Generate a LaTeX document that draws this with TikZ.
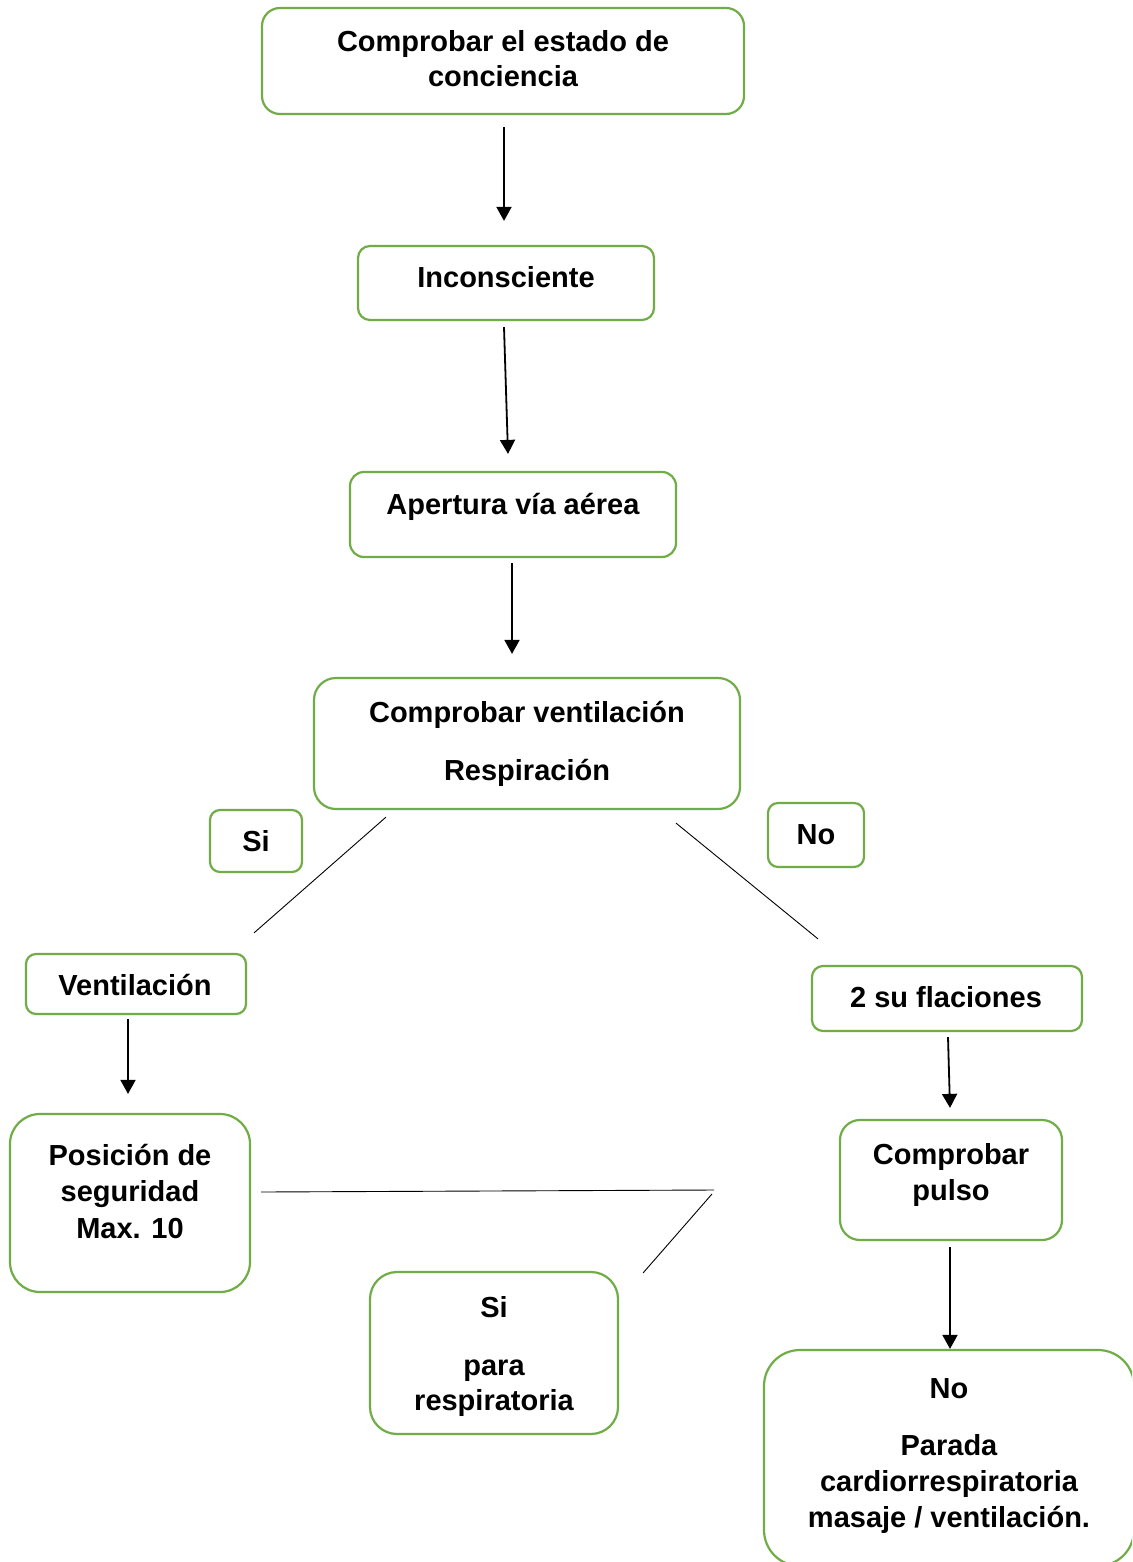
\documentclass[tikz,border=0pt]{standalone}
\usepackage{fontspec}
\setmainfont{Liberation Sans}
\usetikzlibrary{arrows.meta,calc}
\definecolor{boxgreen}{RGB}{112,173,71}
\begin{document}
\begin{tikzpicture}[x=1pt,y=-1pt,
  gbox/.style={draw=boxgreen, line width=2.2pt, inner sep=0pt, fill=white},
  txt/.style={inner sep=0pt, align=center, anchor=north,
    font=\fontsize{29}{36}\selectfont\bfseries},
  arr/.style={line width=1.8pt, -{Triangle[width=15pt,length=14pt]}},
  thin/.style={line width=0.9pt}]
\useasboundingbox (0,0) rectangle (1132,1562);
\clip (0,0) rectangle (1132,1562);
\fill[white] (0,0) rectangle (1132,1562);
% boxes
\node[gbox, rounded corners=18pt, minimum width=482pt, minimum height=106pt] (b1) at (503,61) {};
\node[gbox, rounded corners=12pt, minimum width=296pt, minimum height=74pt] (b2) at (506,283) {};
\node[gbox, rounded corners=14pt, minimum width=326pt, minimum height=85pt] (b3) at (513,514.5) {};
\node[gbox, rounded corners=22pt, minimum width=426pt, minimum height=131pt] (b4) at (527,743.5) {};
\node[gbox, rounded corners=10pt, minimum width=92pt, minimum height=62pt] (bsi) at (256,841) {};
\node[gbox, rounded corners=10pt, minimum width=96pt, minimum height=64pt] (bno) at (816,835) {};
\node[gbox, rounded corners=10pt, minimum width=220pt, minimum height=60pt] (bv) at (136,984) {};
\node[gbox, rounded corners=30pt, minimum width=240pt, minimum height=178pt] (bp) at (130,1203) {};
\node[gbox, rounded corners=27pt, minimum width=248pt, minimum height=162pt] (bsr) at (494,1353) {};
\node[gbox, rounded corners=11pt, minimum width=270pt, minimum height=65pt] (b2s) at (947,998.5) {};
\node[gbox, rounded corners=20pt, minimum width=222pt, minimum height=120pt] (bpu) at (951,1180) {};
\node[gbox, rounded corners=36pt, minimum width=370pt, minimum height=216pt] (bl) at (949,1458) {};
% texts
\node[txt, font=\fontsize{29}{35}\selectfont\bfseries] (t1) at (503,30) {Comprobar el estado de\\conciencia};
\node[txt] (t2) at (506,266) {Inconsciente};
\node[txt] (t3) at (513,493) {Apertura vía aérea};
\node[txt] (t4) at (527,701) {Comprobar ventilación\\[22pt]Respiración};
\node[txt] (tsi) at (256,830) {Si};
\node[txt] (tno) at (816,824) {No};
\node[txt] (tv) at (135,974) {Ventilación};
\node[txt, font=\fontsize{29}{36.5}\selectfont\bfseries] (tp) at (130,1144) {Posición de\\seguridad\\Max. 10};
\node[txt, font=\fontsize{29}{35}\selectfont\bfseries] (tsr) at (494,1296) {Si\\[23pt]para\\respiratoria};
\node[txt] (t2s) at (946,986) {2 su flaciones};
\node[txt] (tpu) at (951,1143) {Comprobar\\pulso};
\node[txt] (tl) at (949,1378) {No\\[21pt]Parada\\cardiorrespiratoria\\masaje / ventilación.};
% connectors
\draw[arr] ($(b1.south)+(1,12)$) -- ($(b2.north)+(-2,-24)$);
\draw[arr] ($(b2.south)+(-2,6)$) -- ($(b3.north)+(-5,-17)$);
\draw[arr] ($(b3.south)+(-1,5)$) -- ($(b4.north)+(-15,-23)$);
\draw[thin] ($(b4.south)+(-141,7)$) -- ($(bv.north)+(118,-20)$);
\draw[thin] ($(b4.south)+(149,13)$) -- ($(b2s.north)+(-129,-26)$);
\draw[arr] ($(bv.south)+(-8,4)$) -- ($(bp.north)+(-2,-19)$);
\coordinate (j1) at (714,1190);
\coordinate (j2) at (712,1194);
\draw[thin] ($(bp.east)+(10,-11)$) -- (j1);
\draw[thin] (j2) -- ($(bsr.north east)+(24,2)$);
\draw[arr] ($(b2s.south)+(1,5)$) -- ($(bpu.north)+(-1,-11)$);
\draw[arr] ($(bpu.south)+(-1,6)$) -- ($(bl.north)+(1,0)$);
\end{tikzpicture}
\end{document}
